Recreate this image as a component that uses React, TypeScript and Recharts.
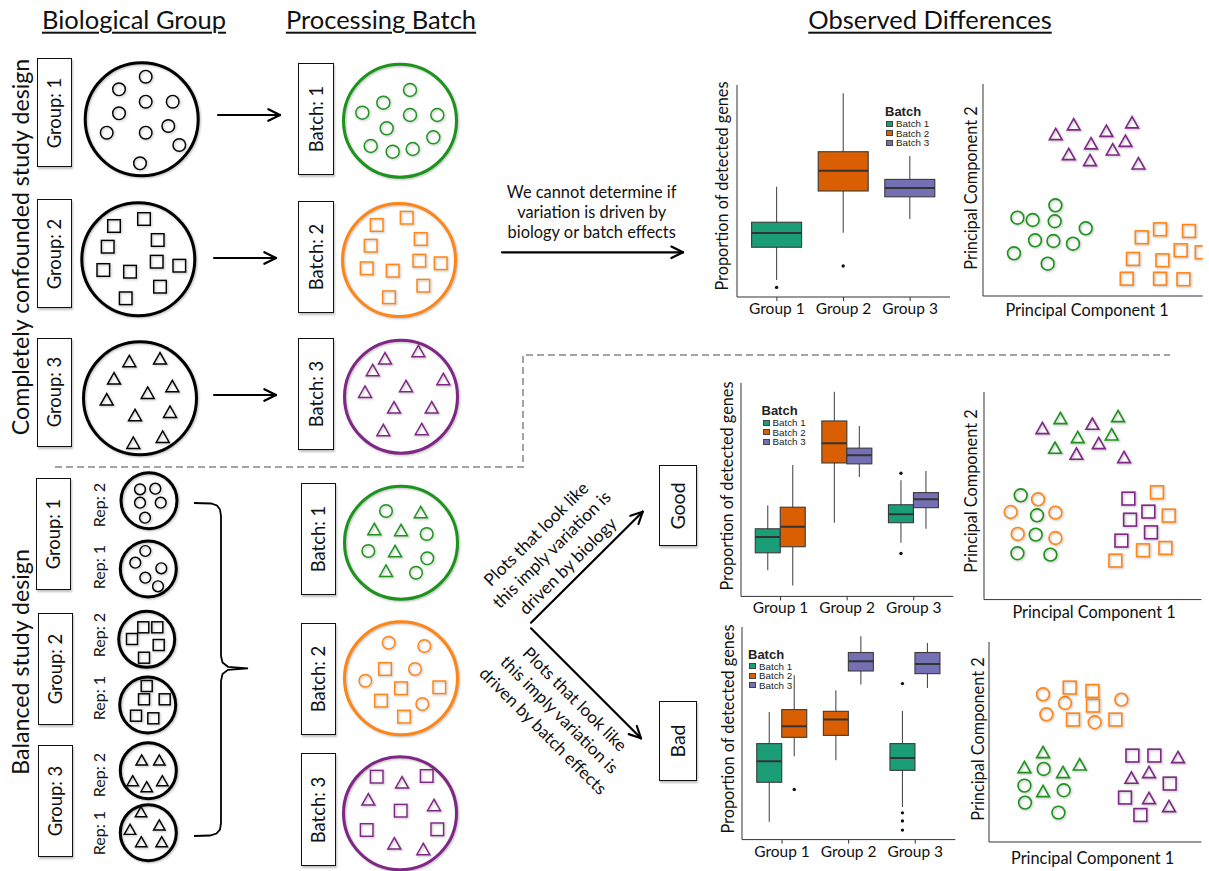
import React from 'react'
import { ScatterChart, Scatter, ComposedChart, Bar, XAxis, YAxis, ReferenceLine } from 'recharts'

const FONT = 'Lato, "Open Sans", sans-serif'
const ARIAL = '"Liberation Sans", Arial, sans-serif'

// diagram ink by batch id (0 = no batch yet)
const INK = ['#000000', '#1c941c', '#ff8515', '#7f2785']
// boxplot fills by batch id
const FILL = ['#888888', '#1b9e77', '#d95f02', '#7570b3']
const SHADOW = 'drop-shadow(1px 1.5px 1px rgba(0,0,0,0.28))'

type Pt = number[]

// ---------- diagram (page coordinates) ----------
const groupRings: Pt[] = [[141.7, 119.3, 0], [138.3, 259.3, 0], [140, 398.3, 0]]
const batchRingsTop: Pt[] = [[400, 120.7, 1], [399, 260, 2], [401, 396.7, 3]]
const repRings: Pt[] = [[149, 500.7, 0], [148.3, 569, 0], [146.7, 639.3, 0], [147.7, 705, 0], [148.3, 770.7, 0], [148.3, 832.7, 0]]
const batchRingsBottom: Pt[] = [[401, 542.7, 1], [401, 678.3, 2], [400, 813.3, 3]]

const conf1Circles: Pt[] = [[145.7, 76.7], [119, 89.3], [145.7, 101.7], [172.7, 101.7], [119, 113.3], [106.7, 132.7], [145.7, 132.7], [168.3, 126], [179.3, 145], [140, 163.3]]
const conf2Squares: Pt[] = [[114, 226], [144, 219], [107.7, 246.7], [157.7, 240], [103.3, 270], [130, 271.7], [156.7, 261.7], [179.3, 265.7], [160, 286.7], [125.7, 298.3]]
const conf3Triangles: Pt[] = [[129.3, 361], [160, 358.3], [114, 378.3], [172.3, 386], [147.7, 392.7], [106.7, 399.3], [135, 415], [170, 411.7], [133.3, 442.7], [162.7, 436.7]]
const confB1Circles: Pt[] = [[410, 90], [383.3, 102.7], [362.3, 112.7], [410, 115], [437.3, 115], [386.7, 128.3], [370.7, 146], [392.7, 151.7], [412.7, 149], [433.3, 137.3]]
const confB2Squares: Pt[] = [[376.7, 225], [406.7, 217.7], [370.7, 245.7], [420.7, 239], [366.7, 268.3], [392.7, 270.7], [419.3, 260.7], [440.7, 263.3], [423.3, 285.7], [389, 297.3]]
const confB3Triangles: Pt[] = [[385, 358.3], [418.3, 351], [372.7, 370], [443.3, 379], [365, 391.7], [406, 386], [394, 407.3], [431.7, 407.3], [383.3, 430], [421.7, 429]]

const rep1aCircles: Pt[] = [[140, 489.3], [155.3, 488.7], [140, 502.7], [160.7, 502.7], [145, 517.7]]
const rep1bCircles: Pt[] = [[145.3, 551], [135.3, 562.7], [161.3, 568.3], [145.3, 577.7], [158, 586.3]]
const rep2aSquares: Pt[] = [[143.3, 627.3], [157.3, 627.3], [132, 639], [158.7, 645], [144, 657.7]]
const rep2bSquares: Pt[] = [[146.7, 686], [144, 699.3], [164.7, 699.3], [136, 715.7], [153.3, 718.3]]
const rep3aTriangles: Pt[] = [[141.7, 760], [159.3, 760], [132.7, 780.7], [146.7, 786.7], [162.3, 780.7]]
const rep3bTriangles: Pt[] = [[141, 811.7], [130, 829.3], [159.3, 825], [141.3, 841.7], [161.7, 841.7]]

const balB1Circles: Pt[] = [[386, 511], [426.7, 534], [368.3, 551], [427.3, 558.3], [416, 572.7]]
const balB1Triangles: Pt[] = [[420.7, 512], [374.3, 529], [401, 530], [395, 551], [386, 570.7]]
const balB2Circles: Pt[] = [[388.7, 642.7], [424.3, 646], [415, 669], [365.3, 680.7], [422.3, 704]]
const balB2Squares: Pt[] = [[385, 669], [401, 688.3], [439.3, 687.3], [381, 700.7], [404, 716.7]]
const balB3Squares: Pt[] = [[376.7, 776.7], [426.7, 776], [400.7, 810.7], [366.7, 830], [437.3, 829.3]]
const balB3Triangles: Pt[] = [[402, 782.3], [368.3, 799.3], [434, 805], [394.3, 843.3], [423.3, 849]]

const arrows: Pt[] = [[218, 115, 280, 115], [214, 258, 276, 258], [214, 395, 276, 395], [502, 252.3, 683, 252.3], [531, 622.7, 642.7, 511.7], [531, 628.3, 641, 738.3]]
const dividerPath: Pt[] = [[55, 467], [523, 467], [523, 355], [1170, 355]]
const bracePath: Pt[] = [[194, 503], [211, 503.5], [217, 505.5], [220, 509.5], [221, 516], [221, 656], [222.5, 662.5], [228, 666.8], [248, 668.3], [228, 669.8], [222.5, 674], [221, 681], [221, 823], [220, 829.5], [216.5, 833.5], [210, 835.5], [194, 836]]

// ---------- boxplots ----------
const groups = ['Group 1', 'Group 2', 'Group 3']
// [lower whisker, q1, median, q3, upper whisker]
const confStats = [[0.188, 0.335, 0.399, 0.447, 0.606], [0.4, 0.587, 0.678, 0.763, 1.025], [0.461, 0.561, 0.6, 0.639, 0.744]]
const confBatch = [1, 2, 3]
const confOut = [[0.155], [0.251], []]

const goodLeftStats = [[0.306, 0.384, 0.454, 0.491, 0.595], [0.518, 0.784, 0.872, 0.971, 1.101], [0.429, 0.518, 0.556, 0.598, 0.707]]
const goodLeftBatch = [1, 2, 1]
const goodLeftOut = [[], [], [0.738, 0.381]]
const goodRightStats = [[0.238, 0.411, 0.5, 0.587, 0.775], [0.721, 0.78, 0.818, 0.85, 0.949], [0.491, 0.585, 0.623, 0.652, 0.748]]
const goodRightBatch = [2, 3, 3]
const goodRightOut = [[], [], []]

const badLeftStats = [[0.168, 0.331, 0.417, 0.49, 0.62], [0.422, 0.524, 0.589, 0.623, 0.71], [0.229, 0.38, 0.431, 0.49, 0.624]]
const badLeftBatch = [1, 2, 1]
const badLeftOut = [[], [], [0.737, 0.205, 0.172, 0.134]]
const badRightStats = [[0.438, 0.516, 0.561, 0.63, 0.771], [0.733, 0.789, 0.829, 0.865, 0.932], [0.719, 0.778, 0.818, 0.865, 0.904]]
const badRightBatch = [2, 3, 3]
const badRightOut = [[0.301], [], []]

// ---------- PCA scatter (PC units) ----------
const confPcTriangles = [[-0.533, 0.955], [-0.272, 1.109], [-0.344, 0.636], [-0.02, 0.807], [-0.035, 0.541], [0.203, 1.007], [0.295, 0.711], [0.48, 0.848], [0.576, 1.141], [0.669, 0.488]]
const confPcCircles = [[-1.09, -0.377], [-0.868, -0.414], [-0.538, -0.18], [-0.548, -0.434], [-0.834, -0.737], [-0.567, -0.748], [-0.282, -0.791], [-0.097, -0.546], [-1.14, -0.944], [-0.65, -1.109]]
const confPcSquares = [[0.717, -0.689], [0.983, -0.562], [1.404, -0.589], [0.59, -1.034], [1.017, -1.055], [1.283, -0.896], [1.589, -0.928], [0.499, -1.348], [0.983, -1.348], [1.323, -1.357]]

const goodTriP = [[-0.742, 1.245], [-0.009, 1.318], [0.084, 0.993], [-0.243, 0.816], [0.455, 0.759]]
const goodTriG = [[-0.478, 1.412], [-0.224, 1.094], [-0.557, 0.916], [0.274, 1.139], [0.367, 1.446]]
const goodCircG = [[-1.06, 0.117], [-0.821, -0.218], [-0.84, -0.541], [-1.108, -0.854], [-0.625, -0.877]]
const goodCircO = [[-0.806, 0.05], [-1.207, -0.162], [-0.551, -0.173], [-1.104, -0.53], [-0.551, -0.598]]
const goodSqP = [[0.519, 0.062], [0.543, -0.291], [0.812, -0.156], [0.85, -0.503], [0.416, -0.642]]
const goodSqO = [[0.938, 0.168], [1.11, -0.223], [1.061, -0.765], [0.733, -0.804], [0.328, -0.977]]

const badCircO = [[-0.784, 0.947], [-0.457, 0.795], [-0.734, 0.598], [-0.015, 0.459], [0.382, 0.854]]
const badSqO = [[-0.387, 1.064], [-0.049, 1.004], [-0.04, 0.75], [-0.338, 0.506], [0.293, 0.506]]
const badTriG = [[-0.784, -0.059], [-1.061, -0.321], [-0.487, -0.408], [-0.238, -0.274], [-0.784, -0.739]]
const badCircG = [[-0.774, -0.355], [-1.061, -0.645], [-0.476, -0.727], [-1.052, -0.942], [-0.555, -1.116]]
const badSqP = [[0.546, -0.122], [0.873, -0.122], [1.101, -0.61], [0.436, -0.854], [0.665, -1.158]]
const badTriP = [[1.225, -0.146], [0.531, -0.506], [0.793, -0.408], [0.793, -0.861], [1.091, -1.001]]

const toXY = (pts: Pt[]) => pts.map(p => ({ x: p[0], y: p[1], b: p[2] ?? 0 }))
const noShape = () => <g />

function glyph(kind: string, color: string, s: number, sw: number) {
  return (p: any) => {
    const { cx, cy } = p
    const st = { fill: 'none', stroke: color, strokeWidth: sw, style: { filter: SHADOW } }
    if (kind === 'c') return <circle cx={cx} cy={cy} r={s / 2} {...st} />
    if (kind === 's') return <rect x={cx - s / 2} y={cy - s / 2} width={s} height={s} {...st} />
    const h = s * 0.88
    return <polygon points={`${cx},${cy - h / 2} ${cx - s / 2},${cy + h / 2} ${cx + s / 2},${cy + h / 2}`} strokeLinejoin="miter" {...st} />
  }
}

const ring = (r: number) => (p: any) => (
  <circle cx={p.cx} cy={p.cy} r={r} fill="none" stroke={INK[p.payload.b]} strokeWidth={3} style={{ filter: SHADOW }} />
)

const arrowParts = (a: Pt) => {
  const [x1, y1, x2, y2] = a
  const ang = Math.atan2(y2 - y1, x2 - x1)
  const L = 13, spread = 0.46
  return [
    [x1, y1, x2, y2],
    [x2, y2, x2 - L * Math.cos(ang - spread), y2 - L * Math.sin(ang - spread)],
    [x2, y2, x2 - L * Math.cos(ang + spread), y2 - L * Math.sin(ang + spread)],
  ]
}

const diagramGlyphs = [
  { pts: conf1Circles, kind: 'c', b: 0, s: 12.6 },
  { pts: conf2Squares, kind: 's', b: 0, s: 12.6 },
  { pts: conf3Triangles, kind: 't', b: 0, s: 13 },
  { pts: confB1Circles, kind: 'c', b: 1, s: 13 },
  { pts: confB2Squares, kind: 's', b: 2, s: 12.6 },
  { pts: confB3Triangles, kind: 't', b: 3, s: 13 },
  { pts: rep1aCircles, kind: 'c', b: 0, s: 10.8 },
  { pts: rep1bCircles, kind: 'c', b: 0, s: 10.8 },
  { pts: rep2aSquares, kind: 's', b: 0, s: 11 },
  { pts: rep2bSquares, kind: 's', b: 0, s: 11 },
  { pts: rep3aTriangles, kind: 't', b: 0, s: 11.5 },
  { pts: rep3bTriangles, kind: 't', b: 0, s: 11.5 },
  { pts: balB1Circles, kind: 'c', b: 1, s: 12.6 },
  { pts: balB1Triangles, kind: 't', b: 1, s: 13 },
  { pts: balB2Circles, kind: 'c', b: 2, s: 12.6 },
  { pts: balB2Squares, kind: 's', b: 2, s: 12.6 },
  { pts: balB3Squares, kind: 's', b: 3, s: 12.6 },
  { pts: balB3Triangles, kind: 't', b: 3, s: 13 },
]

function Diagram() {
  return (
    <div style={{ position: 'absolute', left: 0, top: 0 }}>
      <ScatterChart width={1209} height={871} margin={{ top: 0, right: 0, bottom: 0, left: 0 }}>
        <XAxis type="number" dataKey="x" domain={[0, 1209]} hide allowDataOverflow />
        <YAxis type="number" dataKey="y" domain={[0, 871]} reversed hide allowDataOverflow />
        <Scatter data={toXY(dividerPath)} line={{ stroke: '#a3a3a3', strokeWidth: 2, strokeDasharray: '7 4' }} lineType="joint" shape={noShape} isAnimationActive={false} />
        <Scatter data={toXY(bracePath)} line={{ stroke: '#000', strokeWidth: 1.8 }} lineType="joint" shape={noShape} isAnimationActive={false} />
        <Scatter data={toXY(groupRings)} shape={ring(56.5)} isAnimationActive={false} />
        <Scatter data={toXY(batchRingsTop)} shape={ring(56.5)} isAnimationActive={false} />
        <Scatter data={toXY(repRings)} shape={ring(28)} isAnimationActive={false} />
        <Scatter data={toXY(batchRingsBottom)} shape={ring(56.5)} isAnimationActive={false} />
        {diagramGlyphs.map((g, i) => (
          <Scatter key={i} data={toXY(g.pts)} shape={glyph(g.kind, INK[g.b], g.s, 1.45)} isAnimationActive={false} />
        ))}
        {arrows.flatMap(arrowParts).map((s, i) => (
          <ReferenceLine key={i} segment={[{ x: s[0], y: s[1] }, { x: s[2], y: s[3] }]} stroke="#000" strokeWidth={2.2} strokeLinecap="round" ifOverflow="visible" />
        ))}
      </ScatterChart>
    </div>
  )
}

// ---------- boxplot ----------
const boxShape = (side: string) => (p: any) => {
  const d = p.payload[side]
  const [lo, q1, med, q3, hi] = d.s
  const top = Math.min(p.y, p.y + p.height)
  const h = Math.abs(p.height)
  const k = h / (q3 - q1)
  const py = (v: number) => top + (q3 - v) * k
  const cx = p.x + p.width / 2
  return (
    <g>
      <line x1={cx} x2={cx} y1={py(hi)} y2={py(lo)} stroke="#4d4d4d" strokeWidth={1.1} />
      <rect x={p.x} y={top} width={p.width} height={h} fill={FILL[d.b]} stroke="#3a3a3a" strokeWidth={1.1} />
      <line x1={p.x} x2={p.x + p.width} y1={py(med)} y2={py(med)} stroke="#333" strokeWidth={2} />
      {d.out.map((v: number, i: number) => <circle key={i} cx={cx} cy={py(v)} r={1.7} fill="#111" />)}
    </g>
  )
}

const makeRows = (ls: number[][], lb: number[], lo: number[][], rs?: number[][], rb?: number[], ro?: number[][]) =>
  groups.map((g, i) => ({
    g,
    L: { s: ls[i], b: lb[i], out: lo[i] },
    R: rs ? { s: rs[i], b: rb![i], out: ro![i] } : null,
  }))

const confRows = makeRows(confStats, confBatch, confOut)
const goodRows = makeRows(goodLeftStats, goodLeftBatch, goodLeftOut, goodRightStats, goodRightBatch, goodRightOut)
const badRows = makeRows(badLeftStats, badLeftBatch, badLeftOut, badRightStats, badRightBatch, badRightOut)

function BoxPlot({ x, y, w, h, rows, sides, domain, ticks, barSize }: any) {
  const yw = 12, xh = 30, mr = 2
  const pad = (w - 3 * 66.6) / 2
  return (
    <div style={{ position: 'absolute', left: x - yw, top: y }}>
      <ComposedChart width={yw + w + mr} height={h + xh} data={rows} margin={{ top: 0, right: mr, bottom: 0, left: 0 }} barGap={0}>
        <XAxis dataKey="g" height={xh} padding={{ left: pad, right: pad }} tickSize={4} stroke="#333" interval={0}
          tick={{ fill: '#111', fontSize: 15.5, fontFamily: FONT }} />
        <YAxis type="number" domain={domain} ticks={ticks} width={yw} tickSize={4} stroke="#333" tick={false} allowDataOverflow />
        {sides.map((s: string) => (
          <Bar key={s} dataKey={(d: any) => [d[s].s[1], d[s].s[3]]} barSize={barSize} shape={boxShape(s)} isAnimationActive={false} />
        ))}
      </ComposedChart>
    </div>
  )
}

function BoxLegend({ x, y }: { x: number; y: number }) {
  return (
    <div style={{ position: 'absolute', left: x, top: y, fontFamily: ARIAL, color: '#222' }}>
      <div style={{ fontWeight: 700, fontSize: 13, lineHeight: '13px', marginBottom: 1 }}>Batch</div>
      {[1, 2, 3].map(b => (
        <div key={b} style={{ display: 'flex', alignItems: 'center', fontSize: 9.8, lineHeight: '9.6px', height: 9.6 }}>
          <span style={{ width: 7, height: 6, background: FILL[b], border: '1px solid #444', boxSizing: 'border-box', marginLeft: 1, marginRight: 3 }} />
          <span>Batch {b}</span>
        </div>
      ))}
    </div>
  )
}

// ---------- PCA ----------
function PcaPlot({ x, y, w, h, xDomain, yDomain, sets }: any) {
  const yw = 8, xh = 8, mr = 8
  return (
    <div style={{ position: 'absolute', left: x - yw, top: y }}>
      <ScatterChart width={yw + w + mr} height={h + xh} margin={{ top: 0, right: mr, bottom: 0, left: 0 }}>
        <XAxis type="number" dataKey="x" domain={xDomain} ticks={[-1, 0, 1]} tick={false} tickSize={4} height={xh} stroke="#333" allowDataOverflow />
        <YAxis type="number" dataKey="y" domain={yDomain} ticks={[-1, 0, 1]} tick={false} tickSize={4} width={yw} stroke="#333" allowDataOverflow />
        {sets.map((st: any, i: number) => (
          <Scatter key={i} data={toXY(st.pts)} shape={glyph(st.kind, INK[st.b], 12.8, 1.6)} isAnimationActive={false} />
        ))}
      </ScatterChart>
    </div>
  )
}

// ---------- text helpers ----------
function T({ x, y, children, size = 15, rot = 0, lh = 1.2, bold = false, underline = false }: any) {
  return (
    <div style={{
      position: 'absolute', left: x, top: y, transform: `translate(-50%,-50%) rotate(${rot}deg)`,
      fontSize: size, fontFamily: FONT, whiteSpace: 'pre', lineHeight: lh, textAlign: 'center', color: '#111',
      fontWeight: bold ? 700 : 400, textDecoration: underline ? 'underline' : 'none', textUnderlineOffset: 3,
      textDecorationThickness: 1.5,
    }}>{children}</div>
  )
}

function LabelBox({ x, y, w, h, text, size = 18.4 }: any) {
  return (
    <div style={{ position: 'absolute', left: x, top: y, width: w, height: h, border: '1.5px solid #111', boxSizing: 'border-box', background: '#fff', boxShadow: '1px 1.5px 2px rgba(0,0,0,0.25)' }}>
      <T x={w / 2 - 1} y={h / 2 - 1} rot={-90} size={size}>{text}</T>
    </div>
  )
}

const labelBoxes = [
  [36.7, 58.3, 35.6, 109, 'Group: 1'], [36.7, 199, 35.6, 109.3, 'Group: 2'], [36.7, 337.7, 35.6, 109.6, 'Group: 3'],
  [298.3, 62.7, 35.7, 112.3, 'Batch: 1'], [298.3, 201.3, 35.7, 112, 'Batch: 2'], [298.3, 338.3, 35.7, 111.7, 'Batch: 3'],
  [35.7, 478.3, 35.3, 111.7, 'Group: 1'], [37.7, 612.7, 35.3, 112.3, 'Group: 2'], [37.7, 745, 35.3, 111.7, 'Group: 3'],
  [300.7, 482.7, 35.3, 112.3, 'Batch: 1'], [300.7, 622.7, 35.3, 112.3, 'Batch: 2'], [300.7, 753.3, 35.3, 112.7, 'Batch: 3'],
]
const repLabels: [number, string][] = [[505, 'Rep: 2'], [566.7, 'Rep: 1'], [635, 'Rep: 2'], [698.3, 'Rep: 1'], [775, 'Rep: 2'], [833.3, 'Rep: 1']]

export default function App() {
  return (
    <div style={{ position: 'absolute', left: 0, top: 0, width: 1209, height: 871, background: '#fff', overflow: 'hidden' }}>
      <Diagram />

      <BoxPlot x={737} y={85} w={213} h={212} rows={confRows} sides={['L']} domain={[0.112, 1.062]} ticks={[0.2, 0.4, 0.6, 0.8, 1.0]} barSize={50} />
      <BoxPlot x={740.7} y={383.3} w={212.3} h={213.4} rows={goodRows} sides={['L', 'R']} domain={[0.19, 1.14]} ticks={[0.25, 0.5, 0.75, 1.0]} barSize={25} />
      <BoxPlot x={741.7} y={626.7} w={213.3} h={212.6} rows={badRows} sides={['L', 'R']} domain={[0.095, 0.97]} ticks={[0.25, 0.5, 0.75]} barSize={25} />
      <BoxLegend x={885} y={105} />
      <BoxLegend x={761.5} y={404} />
      <BoxLegend x={748} y={647.5} />

      <PcaPlot x={983.3} y={84} w={219.7} h={212} xDomain={[-1.59, 1.603]} yDomain={[-1.623, 1.75]}
        sets={[{ pts: confPcTriangles, kind: 't', b: 3 }, { pts: confPcCircles, kind: 'c', b: 1 }, { pts: confPcSquares, kind: 's', b: 2 }]} />
      <PcaPlot x={984.3} y={391.7} w={217.4} h={207.6} xDomain={[-1.598, 1.589]} yDomain={[-1.63, 1.848]}
        sets={[{ pts: goodTriP, kind: 't', b: 3 }, { pts: goodTriG, kind: 't', b: 1 }, { pts: goodCircG, kind: 'c', b: 1 }, { pts: goodCircO, kind: 'c', b: 2 }, { pts: goodSqP, kind: 's', b: 3 }, { pts: goodSqO, kind: 's', b: 2 }]} />
      <PcaPlot x={989.3} y={641.7} w={212.4} h={200} xDomain={[-1.588, 1.573]} yDomain={[-1.629, 1.859]}
        sets={[{ pts: badCircO, kind: 'c', b: 2 }, { pts: badSqO, kind: 's', b: 2 }, { pts: badTriG, kind: 't', b: 1 }, { pts: badCircG, kind: 'c', b: 1 }, { pts: badSqP, kind: 's', b: 3 }, { pts: badTriP, kind: 't', b: 3 }]} />

      <T x={134} y={19} size={25.5} underline>Biological Group</T>
      <T x={381} y={19} size={25.5} underline>Processing Batch</T>
      <T x={930} y={19} size={25.5} underline>Observed Differences</T>
      <T x={20.7} y={246.7} size={23.2} rot={-90}>Completely confounded study design</T>
      <T x={20.7} y={662} size={23.2} rot={-90}>Balanced study design</T>

      {labelBoxes.map((b, i) => <LabelBox key={i} x={b[0]} y={b[1]} w={b[2]} h={b[3]} text={b[4]} />)}
      <LabelBox x={659} y={465} w={38.3} h={81} text="Good" size={19.5} />
      <LabelBox x={659} y={700.7} w={38.3} h={80} text="Bad" size={19.5} />
      {repLabels.map(([y, t], i) => <T key={i} x={99} y={y} size={16} rot={-90}>{t}</T>)}

      <T x={591.7} y={212.5} size={16.4} lh={1.24}>{'We cannot determine if\nvariation is driven by\nbiology or batch effects'}</T>
      <T x={551.7} y={550} size={17.2} lh={1.3} rot={-44.8}>{'Plots that look like\nthis imply variation is\ndriven by biology'}</T>
      <T x={559.2} y={715} size={17.2} lh={1.3} rot={45}>{'Plots that look like\nthis imply variation is\ndriven by batch effects'}</T>

      <T x={721.7} y={186} size={16.3} rot={-90}>Proportion of detected genes</T>
      <T x={726.7} y={485.5} size={16.3} rot={-90}>Proportion of detected genes</T>
      <T x={728.3} y={729} size={16.3} rot={-90}>Proportion of detected genes</T>
      <T x={970.7} y={187.5} size={16.3} rot={-90}>Principal Component 2</T>
      <T x={970.7} y={490.8} size={16.3} rot={-90}>Principal Component 2</T>
      <T x={978.3} y={739} size={16.3} rot={-90}>Principal Component 2</T>
      <T x={1087} y={310} size={16.3}>Principal Component 1</T>
      <T x={1094} y={611.7} size={16.3}>Principal Component 1</T>
      <T x={1092.7} y={858.3} size={16.3}>Principal Component 1</T>
    </div>
  )
}
